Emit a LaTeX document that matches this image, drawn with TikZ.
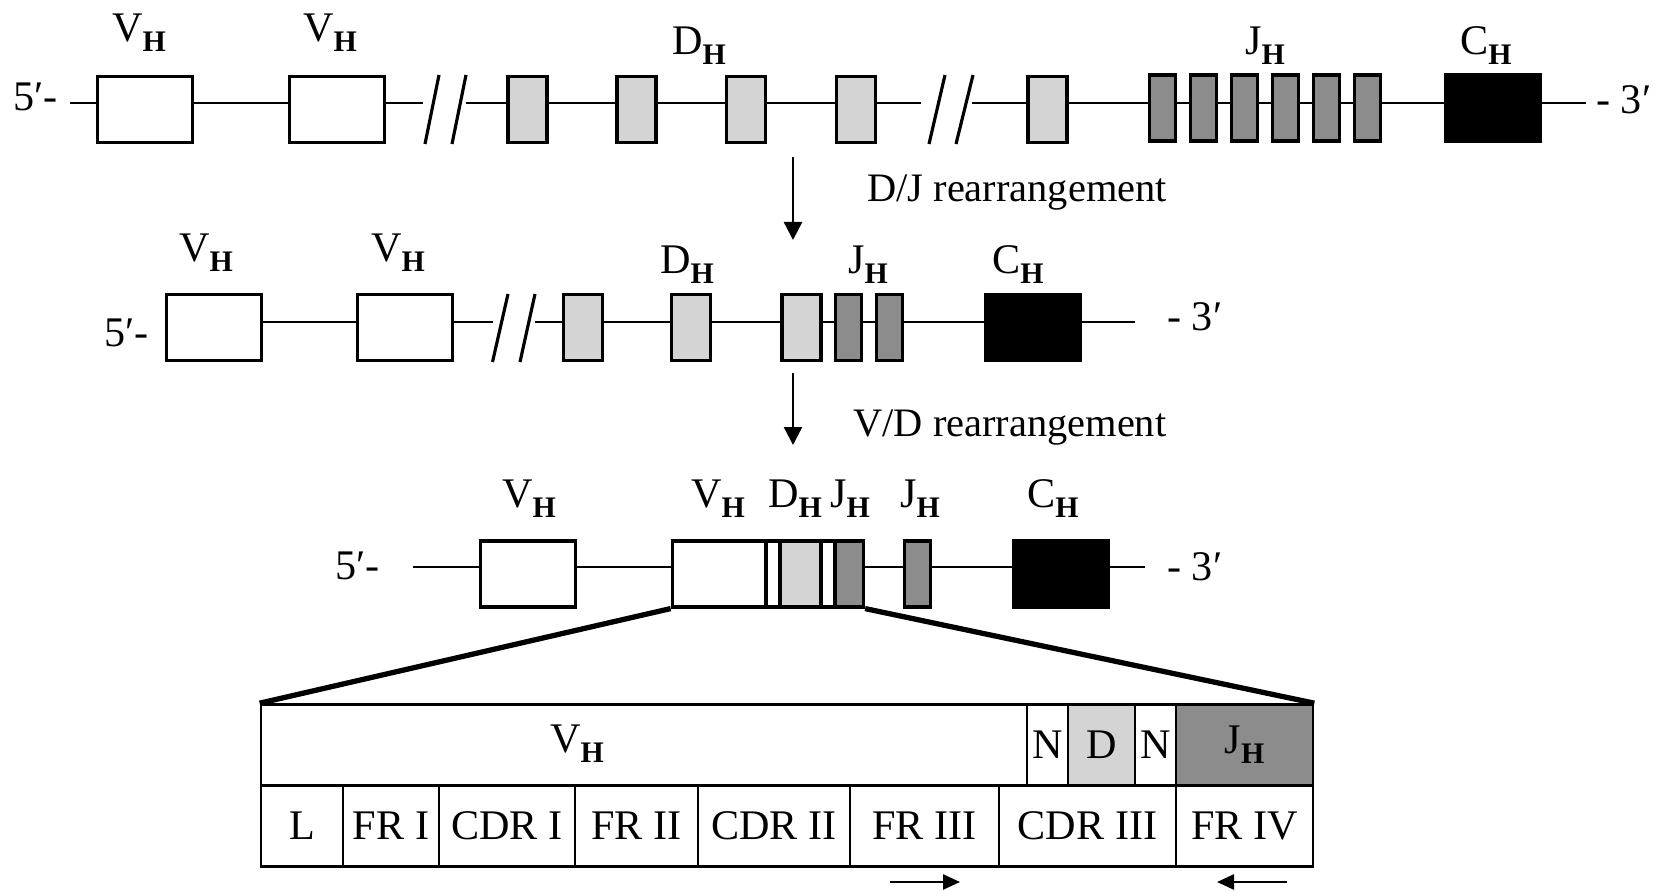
\documentclass[tikz,border=0pt]{standalone}
\usepackage{fontspec}
\setmainfont{Liberation Serif}
\usetikzlibrary{arrows.meta,positioning,backgrounds}
\definecolor{dgray}{gray}{0.83}
\definecolor{jgray}{gray}{0.55}
\newcommand{\Hs}{\raisebox{-0.2cm}{\fontsize{17}{17}\selectfont\bfseries H}}

\begin{document}
\begin{tikzpicture}[x=0.02cm,y=-0.02cm,
  every node/.style={font=\fontsize{24}{28}\selectfont,inner sep=0pt},
  exon/.style={draw,line width=1.8pt,minimum height=1.32cm},
  vseg/.style={exon,fill=white,minimum width=1.9cm},
  dseg/.style={exon,fill=dgray,minimum width=0.78cm},
  jseg/.style={exon,fill=jgray,minimum width=0.52cm},
  cseg/.style={exon,fill=black,minimum width=1.9cm},
  dna/.style={line width=1.6pt},
  brk/.style={line width=1.8pt},
  arr/.style={-{Triangle[length=3.6mm,width=3.6mm]},line width=1.4pt},
  primer/.style={-{Triangle[length=3.4mm,width=3mm]},line width=1.4pt},
  zoomln/.style={line width=3pt},
  cell/.style={draw,line width=1.5pt,minimum height=1.62cm}]
\useasboundingbox (0,0) rectangle (1663,891);

% germline
\node[anchor=east] (p5a) at (58,97) {5′-};
\coordinate (s1) at (70,103);
\node[vseg] (V1a) at (145,109.5) {};
\node[vseg] (V1b) at (337,109.5) {};
\coordinate (k1a) at (423,103); \coordinate (k1b) at (466,103);
\foreach \i/\x in {1/527.5,2/636.5,3/746,4/856,5/1047.5}
  \node[dseg] (D1\i) at (\x,109.5) {};
\coordinate (k1c) at (921,103); \coordinate (k1d) at (972,103);
\foreach \i in {1,...,6}
  \node[jseg] (J1\i) at ({1121.5+41*\i},108) {};
\node[cseg] (C1) at (1493,108) {};
\coordinate (e1) at (1586,103);
\node[anchor=west] (p3a) at (1596,100) {- 3′};
\draw[brk] (425,144) -- (439,75) (452,144) -- (466,75);
\draw[brk] (929,144) -- (945,75) (956,144) -- (973,75);
\node[anchor=base] (lV1a) at (139,42) {V\Hs};
\node[anchor=base] (lV1b) at (330,42) {V\Hs};
\node[anchor=base] (lD1) at (699,55) {D\Hs};
\node[anchor=base] (lJ1) at (1265,55) {J\Hs};
\node[anchor=base] (lC1) at (1486,55) {C\Hs};

\coordinate (a1s) at (793,157); \coordinate (a1e) at (793,240);
\draw[arr] (a1s) -- (a1e);
\node[anchor=base west,font=\fontsize{23}{27}\selectfont] (dj) at (867,202) {D/J rearrangement};

% after D/J
\node[anchor=east] (p5b) at (149,333) {5′-};
\coordinate (s2) at (214,322);
\node[vseg] (V2a) at (214,327.5) {};
\node[vseg] (V2b) at (405,327.5) {};
\coordinate (k2a) at (493,322); \coordinate (k2b) at (535,322);
\draw[brk] (492.5,362) -- (508,294) (520,362) -- (535,294);
\foreach \i/\x in {1/583,2/691,3/801.5}
  \node[dseg] (D2\i) at (\x,327.5) {};
\foreach \i/\x in {1/848.5,2/889.5}
  \node[jseg] (J2\i) at (\x,327.5) {};
\node[cseg] (C2) at (1033,327.5) {};
\coordinate (e2) at (1135,322);
\node[anchor=west] (p3b) at (1167,317) {- 3′};
\node[anchor=base] (lV2a) at (206,262) {V\Hs};
\node[anchor=base] (lV2b) at (398,262) {V\Hs};
\node[anchor=base] (lD2) at (687,274) {D\Hs};
\node[anchor=base] (lJ2) at (868,274) {J\Hs};
\node[anchor=base] (lC2) at (1018,274) {C\Hs};

\coordinate (a2s) at (793,373); \coordinate (a2e) at (793,445);
\draw[arr] (a2s) -- (a2e);
\node[anchor=base west,font=\fontsize{23}{27}\selectfont] (vd) at (853,437) {V/D rearrangement};

% after V/D
\node[anchor=east] (p5c) at (380,566) {5′-};
\coordinate (s3) at (412.5,567);
\node[vseg] (V3a) at (528,574) {};
\node[vseg,minimum width=1.87cm] (V3b) at (719,574) {};
\node[exon,fill=white,minimum width=0.28cm] (N3a) at (773,574) {};
\node[dseg,minimum width=0.82cm] (D3) at (800.5,574) {};
\node[exon,fill=white,minimum width=0.28cm] (N3b) at (828,574) {};
\node[jseg,minimum width=0.57cm] (J3a) at (849.25,574) {};
\node[jseg] (J3b) at (917.5,574) {};
\node[cseg] (C3) at (1061,574) {};
\coordinate (e3) at (1145,567);
\node[anchor=west] (p3c) at (1167,567) {- 3′};
\node[anchor=base] (lV3a) at (529,508) {V\Hs};
\node[anchor=base] (lV3b) at (718,508) {V\Hs};
\node[anchor=base] (lD3) at (795,508) {D\Hs};
\node[anchor=base] (lJ3a) at (850,508) {J\Hs};
\node[anchor=base] (lJ3b) at (920,508) {J\Hs};
\node[anchor=base] (lC3) at (1053,508) {C\Hs};

\begin{scope}[on background layer]
\draw[dna] (s1) -- (k1a) (k1b) -- (k1c) (k1d) -- (e1);
\draw[dna] (s2) -- (k2a) (k2b) -- (e2);
\draw[dna] (s3) -- (e3);
\end{scope}

% VDJ exon
\foreach \n/\l/\r/\c/\t in {Vc/261/1027/white/{},Na/1027/1068/white/N,Dc/1068/1135/dgray/D,Nb/1135/1176/white/N,Jc/1176/1313/jgray/J\Hs}
  \node[cell,fill=\c,minimum width={(\r-\l)*0.02cm}] (\n) at ({(\l+\r)/2},745) {\t};
\node[anchor=base] (vlab) at (577,752) {V\Hs};
\foreach \n/\l/\r/\t in {cL/261/343/L,cFRa/343/439/FR I,cCDRa/439/575/CDR I,cFRb/575/698/FR II,cCDRb/698/850/CDR II,cFRc/850/999/FR III,cCDRc/999/1176/CDR III,cFRd/1176/1313/FR IV}
  \node[cell,minimum width={(\r-\l)*0.02cm}] (\n) at ({(\l+\r)/2},826) {\t};

\draw[zoomln] (V3b.south west) -- (Vc.north west);
\draw[zoomln] (J3a.south east) -- (Jc.north east);

\coordinate (pf1) at (890,882); \coordinate (pf2) at (960,882);
\coordinate (pr1) at (1287,882); \coordinate (pr2) at (1217,882);
\draw[primer] (pf1) -- (pf2);
\draw[primer] (pr1) -- (pr2);
\end{tikzpicture}
\end{document}
